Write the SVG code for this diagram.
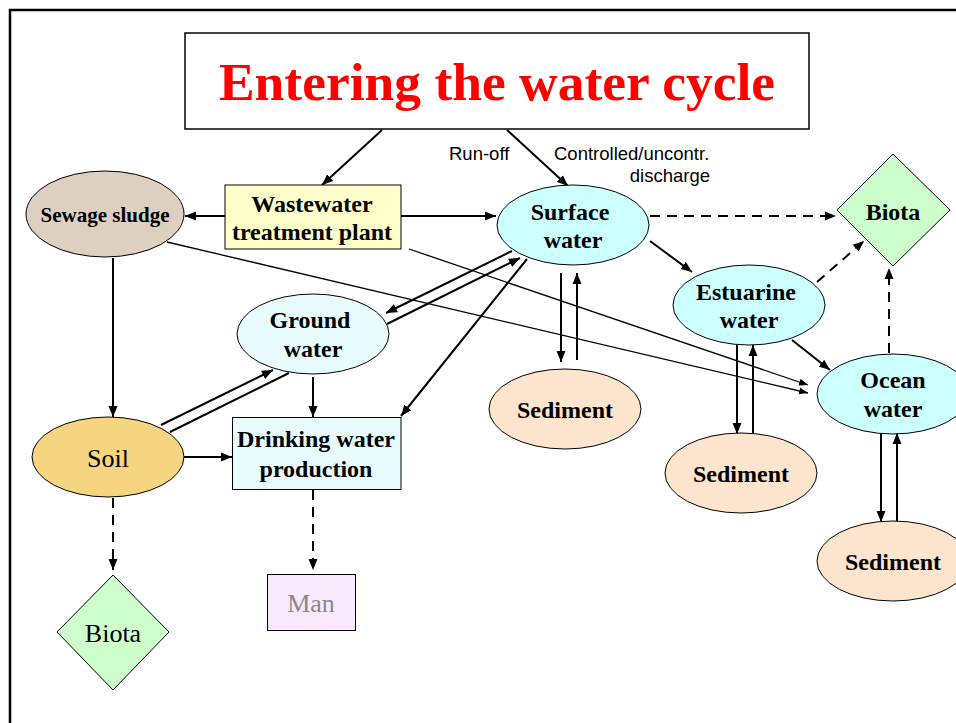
<svg xmlns="http://www.w3.org/2000/svg" width="956" height="723" viewBox="0 0 956 723">
<style>
.lbl{font-family:"Liberation Serif","Times New Roman",serif;font-weight:bold;font-size:24px;fill:#000;text-anchor:middle}
.reg{font-family:"Liberation Serif","Times New Roman",serif;font-size:26px;fill:#000;text-anchor:middle}
.sans{font-family:"Liberation Sans",Arial,sans-serif;font-size:18.5px;fill:#000}
.node{stroke:#000;stroke-width:1}
.c{stroke:#000;stroke-width:2;fill:none;marker-end:url(#ah)}
.cn{stroke:#000;stroke-width:2;fill:none}
.d{stroke:#000;stroke-width:2;fill:none;stroke-dasharray:10 7;marker-end:url(#ah)}
.t{stroke:#000;stroke-width:1.3;fill:none;marker-end:url(#ahs)}
</style>
<defs>
<marker id="ah" markerWidth="11" markerHeight="10" refX="11" refY="5" orient="auto" markerUnits="userSpaceOnUse" viewBox="0 0 11 10"><path d="M0,0.5 L11,5 L0,9.5 z" fill="#000"/></marker>
<marker id="ahs" markerWidth="9" markerHeight="8" refX="9" refY="4" orient="auto" markerUnits="userSpaceOnUse" viewBox="0 0 9 8"><path d="M0,0.5 L9,4 L0,7.5 z" fill="#000"/></marker>
</defs>
<rect width="956" height="723" fill="#fff"/>
<path d="M10,723 L10,10 L956,10" fill="none" stroke="#000" stroke-width="2.5"/>

<g id="title">
<rect x="185" y="33" width="624" height="96" fill="#fff" stroke="#000" stroke-width="1.5"/>
<text x="497" y="100" text-anchor="middle" font-family="'Liberation Serif','Times New Roman',serif" font-weight="bold" font-size="53.5" fill="#ff0000">Entering the water cycle</text>
</g>

<g id="connectors">
<line class="c" x1="382" y1="130" x2="322" y2="185"/>
<line class="c" x1="507" y1="130" x2="568" y2="186"/>
<line class="c" x1="225" y1="216" x2="185" y2="216"/>
<line class="c" x1="401" y1="216" x2="496" y2="216"/>
<line class="d" x1="650" y1="216" x2="836" y2="216"/>
<line class="c" x1="650" y1="241" x2="692" y2="272"/>
<line class="d" x1="817" y1="282" x2="864" y2="241"/>
<line class="d" x1="889" y1="353" x2="889" y2="268"/>
<line class="c" x1="792" y1="340" x2="830" y2="370"/>
<line class="c" x1="561" y1="273" x2="561" y2="362"/>
<line class="c" x1="577" y1="360" x2="577" y2="273"/>
<line class="c" x1="737" y1="345" x2="737" y2="434"/>
<line class="c" x1="753" y1="434" x2="753" y2="345"/>
<line class="c" x1="881" y1="433" x2="881" y2="522"/>
<line class="c" x1="897" y1="522" x2="897" y2="433"/>
<line class="c" x1="113" y1="258" x2="113" y2="417"/>
<line class="c" x1="184" y1="457" x2="232" y2="457"/>
<line class="c" x1="313" y1="377" x2="313" y2="417"/>
<line class="c" x1="527" y1="259" x2="401" y2="416"/>
<line class="c" x1="161" y1="425" x2="273" y2="370"/>
<line class="cn" x1="289" y1="373" x2="170" y2="432"/>
<line class="c" x1="512" y1="251" x2="386" y2="313"/>
<line class="c" x1="387" y1="324" x2="520" y2="258"/>
<line class="t" x1="167" y1="242" x2="808" y2="393"/>
<line class="t" x1="409" y1="249" x2="808" y2="385"/>
<line class="d" x1="113" y1="498" x2="113" y2="570"/>
<line class="d" x1="313" y1="490" x2="313" y2="570"/>
</g>

<g id="labels">
<text class="sans" x="449" y="160">Run-off</text>
<text class="sans" x="554" y="160">Controlled/uncontr.</text>
<text class="sans" x="710" y="181.5" text-anchor="end">discharge</text>
</g>

<g id="sewage-sludge">
<ellipse class="node" cx="105" cy="214" rx="79" ry="43" fill="#ddd0c0"/>
<text class="lbl" x="105" y="222" style="font-size:21px">Sewage sludge</text>
</g>
<g id="wwtp">
<rect class="node" x="225" y="185" width="176" height="64" fill="#ffffcc"/>
<text class="lbl" x="312" y="212">Wastewater</text>
<text class="lbl" x="312" y="240">treatment plant</text>
</g>
<g id="surface-water">
<ellipse class="node" cx="573" cy="225" rx="76" ry="40" fill="#ccffff"/>
<text class="lbl" x="570" y="220">Surface</text>
<text class="lbl" x="573" y="248">water</text>
</g>
<g id="biota-top">
<path class="node" d="M893,154 L950,210 L893,266 L837,210 Z" fill="#ccffcc"/>
<text class="lbl" x="893" y="220">Biota</text>
</g>
<g id="estuarine-water">
<ellipse class="node" cx="749" cy="305" rx="76" ry="40" fill="#ccffff"/>
<text class="lbl" x="746" y="300">Estuarine</text>
<text class="lbl" x="749" y="328">water</text>
</g>
<g id="ocean-water">
<ellipse class="node" cx="893" cy="394" rx="76" ry="40" fill="#ccffff"/>
<text class="lbl" x="893" y="388">Ocean</text>
<text class="lbl" x="893" y="417">water</text>
</g>
<g id="sediment-1">
<ellipse class="node" cx="565" cy="409" rx="76" ry="40" fill="#fde4cc"/>
<text class="lbl" x="565" y="418">Sediment</text>
</g>
<g id="sediment-2">
<ellipse class="node" cx="741" cy="473" rx="76" ry="40" fill="#fde4cc"/>
<text class="lbl" x="741" y="482">Sediment</text>
</g>
<g id="sediment-3">
<ellipse class="node" cx="893" cy="561" rx="76" ry="40" fill="#fde4cc"/>
<text class="lbl" x="893" y="570">Sediment</text>
</g>
<g id="ground-water">
<ellipse class="node" cx="313" cy="334" rx="76" ry="40" fill="#e8fcff"/>
<text class="lbl" x="310" y="328">Ground</text>
<text class="lbl" x="313" y="357">water</text>
</g>
<g id="soil">
<ellipse class="node" cx="108" cy="457" rx="76" ry="40" fill="#f5d580"/>
<text class="reg" x="108" y="467">Soil</text>
</g>
<g id="drinking-water">
<rect class="node" x="232.5" y="417.5" width="168.5" height="72" fill="#e8fcff"/>
<text class="lbl" x="316" y="447">Drinking water</text>
<text class="lbl" x="316" y="477">production</text>
</g>
<g id="man">
<rect class="node" x="267.5" y="574.5" width="88" height="56" fill="#f8eafc"/>
<text class="reg" x="311" y="612" style="fill:#888">Man</text>
</g>
<g id="biota-bottom">
<path class="node" d="M113,575 L169,632 L113,690 L57,632 Z" fill="#ccffcc"/>
<text class="reg" x="113" y="642">Biota</text>
</g>
</svg>
